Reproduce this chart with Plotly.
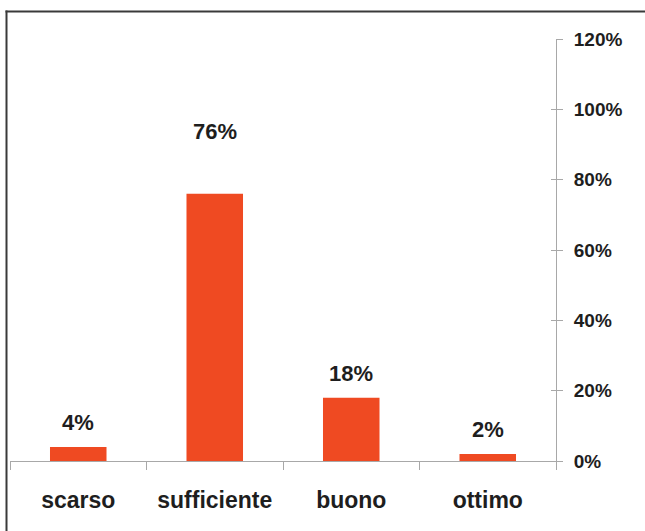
import plotly.graph_objects as go

# Rating categories and share of answers (percent)
categories = ["scarso", "sufficiente", "buono", "ottimo"]
shares = [4, 76, 18, 2]

# Y-axis ticks (percent) and their labels
y_ticks = [0, 20, 40, 60, 80, 100, 120]
y_tick_labels = [f"{t}%" for t in y_ticks]

# Pixel lift of each value label above its bar top
label_lift = [24, 62, 24, 24]

BAR_COLOR = "#EF4A22"
TEXT_COLOR = "#1e1e1e"
AXIS_COLOR = "#a8a8a8"
FONT = "Liberation Sans, Arial, sans-serif"

fig = go.Figure()
fig.add_trace(go.Bar(
    x=categories,
    y=shares,
    marker=dict(color=BAR_COLOR, line=dict(width=0)),
    showlegend=False,
    hoverinfo="skip",
))

# Value labels above each bar
for cat, val, lift in zip(categories, shares, label_lift):
    fig.add_annotation(
        x=cat, y=val, text=f"{val}%", showarrow=False,
        xref="x", yref="y", yanchor="middle", yshift=lift,
        font=dict(family=FONT, size=22, color=TEXT_COLOR, weight="bold"),
    )

W, H = 645, 531
ml, mr, mt, mb = 10, 89, 39, 70
pw, ph = W - ml - mr, H - mt - mb

fig.update_layout(
    width=W, height=H,
    margin=dict(l=ml, r=mr, t=mt, b=mb, pad=0),
    paper_bgcolor="white",
    plot_bgcolor="white",
    bargap=0.586,
    xaxis=dict(
        type="category",
        range=[-0.5, 3.5],
        showgrid=False,
        zeroline=False,
        showline=True,
        linecolor=AXIS_COLOR,
        linewidth=1,
        ticks="outside",
        tickson="boundaries",
        ticklen=8,
        tickcolor=AXIS_COLOR,
        tickwidth=1,
        ticklabelstandoff=18,
        tickfont=dict(family=FONT, size=23, color=TEXT_COLOR, weight="bold"),
    ),
    yaxis=dict(
        side="right",
        range=[0, 120],
        tickvals=y_ticks,
        ticktext=y_tick_labels,
        showgrid=False,
        zeroline=False,
        showline=True,
        linecolor=AXIS_COLOR,
        linewidth=1,
        ticks="outside",
        ticklen=6,
        tickcolor=AXIS_COLOR,
        tickwidth=1,
        ticklabelstandoff=7,
        tickfont=dict(family=FONT, size=19, color=TEXT_COLOR, weight="bold"),
    ),
    # Overlay axis supplying the inner half of the crossing tick marks
    yaxis2=dict(
        overlaying="y",
        side="right",
        range=[0, 120],
        tickvals=y_ticks,
        showgrid=False,
        zeroline=False,
        showline=False,
        ticks="inside",
        ticklen=5,
        tickcolor=AXIS_COLOR,
        tickwidth=1,
        showticklabels=False,
    ),
)

# Invisible trace so the overlay axis is drawn
fig.add_trace(go.Scatter(x=[categories[0]], y=[0], yaxis="y2", mode="markers",
                         marker=dict(opacity=0), showlegend=False, hoverinfo="skip"))

# Outer frame: left and top edges, stopping at the page border
frame_left = (6.5 - ml) / pw
frame_top = 1 + (mt - 11.5) / ph
frame = dict(color="#3a3a3a", width=2)
fig.add_shape(type="line", xref="paper", yref="paper",
              x0=frame_left, x1=frame_left, y0=-mb / ph, y1=frame_top + 1 / ph,
              line=frame, layer="above")
fig.add_shape(type="line", xref="paper", yref="paper",
              x0=frame_left - 1 / pw, x1=(W - ml) / pw, y0=frame_top, y1=frame_top,
              line=frame, layer="above")

fig.write_html(
    "out.html",
    config={"displayModeBar": False},
    post_script="document.documentElement.style.overflow='hidden';"
                "document.body.style.overflow='hidden';"
                "document.body.style.margin='0';",
)
